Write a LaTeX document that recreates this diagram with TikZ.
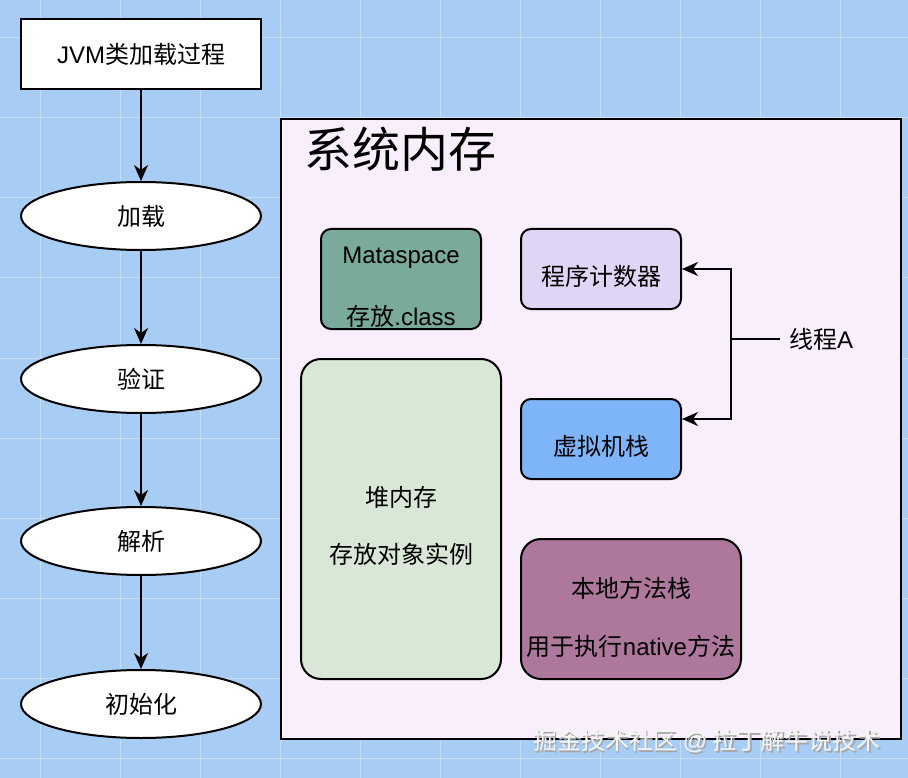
\documentclass[tikz,border=0pt]{standalone}
\usepackage{fontspec}
\setmainfont{Noto Sans CJK SC}
\newfontfamily\lat{Liberation Sans}
\usetikzlibrary{arrows.meta,shapes.geometric}
\definecolor{bgblue}{RGB}{168,205,245}
\definecolor{gridc}{RGB}{200,221,246}
\definecolor{sysfill}{RGB}{249,238,252}
\definecolor{tealfill}{RGB}{122,170,156}
\definecolor{lavfill}{RGB}{225,213,245}
\definecolor{bluefill}{RGB}{126,180,248}
\definecolor{greenfill}{RGB}{217,232,214}
\definecolor{mauvefill}{RGB}{174,120,156}
\tikzset{
  flowbox/.style={draw=black, line width=2pt, fill=white, minimum width=240pt, minimum height=70pt, font=\fontsize{24}{28}\selectfont, inner sep=0pt},
  flowell/.style={ellipse, draw=black, line width=2pt, fill=white, minimum width=240pt, minimum height=68pt, font=\fontsize{24}{28}\selectfont, inner sep=0pt},
  membox/.style={draw=black, line width=2pt, rounded corners=10pt, inner sep=0pt},
  lbl/.style={font=\fontsize{24}{28}\selectfont, inner sep=0pt},
  arr/.style={line width=2pt, -{Stealth[length=16pt,width=14pt,inset=5pt]}},
}
\begin{document}
\begin{tikzpicture}[x=1pt,y=-1pt]
\useasboundingbox (0,0) rectangle (908,778);
\fill[bgblue] (0,0) rectangle (908,778);
\foreach \gx in {40,120,...,900} \draw[gridc, line width=1pt] (\gx,0) -- (\gx,778);
\foreach \gy in {38,118,...,770} \draw[gridc, line width=1pt] (0,\gy) -- (908,\gy);

% left flow
\node[flowbox] (jvm) at (141,54) {{\lat JVM}类加载过程};
\node[flowell] (load) at (141,216) {加载};
\node[flowell] (verify) at (141,379) {验证};
\node[flowell] (parse) at (141,541) {解析};
\node[flowell] (init) at (141,704) {初始化};
\draw[arr] (jvm) -- (load);
\draw[arr] (load) -- (verify);
\draw[arr] (verify) -- (parse);
\draw[arr] (parse) -- (init);

% system memory
\draw[line width=2pt, fill=sysfill] (281,119) rectangle (901,739);
\node[inner sep=0pt, font=\fontsize{48}{54}\selectfont] (title) at (400,149) {系统内存};

\draw[membox, fill=tealfill] (321,229) rectangle (481,329);
\node[lbl] (meta1) at (401,258) {\lat Mataspace};
\node[lbl] (meta2) at (401,316) {存放{\lat .class}};

\draw[membox, fill=lavfill] (521,229) rectangle (681,309);
\node[lbl] (pc) at (601,276) {程序计数器};
\coordinate (pcr) at (682,269);

\draw[membox, fill=bluefill] (521,399) rectangle (681,479);
\node[lbl] (vms) at (601,446) {虚拟机栈};
\coordinate (vmr) at (682,419);

\draw[membox, rounded corners=20pt, fill=greenfill] (301,359) rectangle (501,679);
\node[lbl] (heap1) at (401,497) {堆内存};
\node[lbl] (heap2) at (401,554) {存放对象实例};

\draw[membox, rounded corners=20pt, fill=mauvefill] (521,539) rectangle (741,679);
\node[lbl] (nat1) at (631,588) {本地方法栈};
\node[lbl] (nat2) at (631,646) {用于执行{\lat native}方法};

\node[lbl, anchor=west] (thread) at (789,339) {线程{\lat A}};
\coordinate (junc) at (731,339);
\draw[line width=2pt] (thread.west) ++(-9,0) -- (junc);
\draw[arr] (junc) |- (pcr);
\draw[arr] (junc) |- (vmr);

% watermark
\node[inner sep=0pt, text=black!35, font=\fontsize{24}{28}\selectfont] (wm0) at (708.5,742.5) {掘金技术社区 {\lat @} 拉丁解牛说技术};
\node[inner sep=0pt, text=white!92!gray, font=\fontsize{24}{28}\selectfont] (wm) at (707,741) {掘金技术社区 {\lat @} 拉丁解牛说技术};
\end{tikzpicture}
\end{document}
